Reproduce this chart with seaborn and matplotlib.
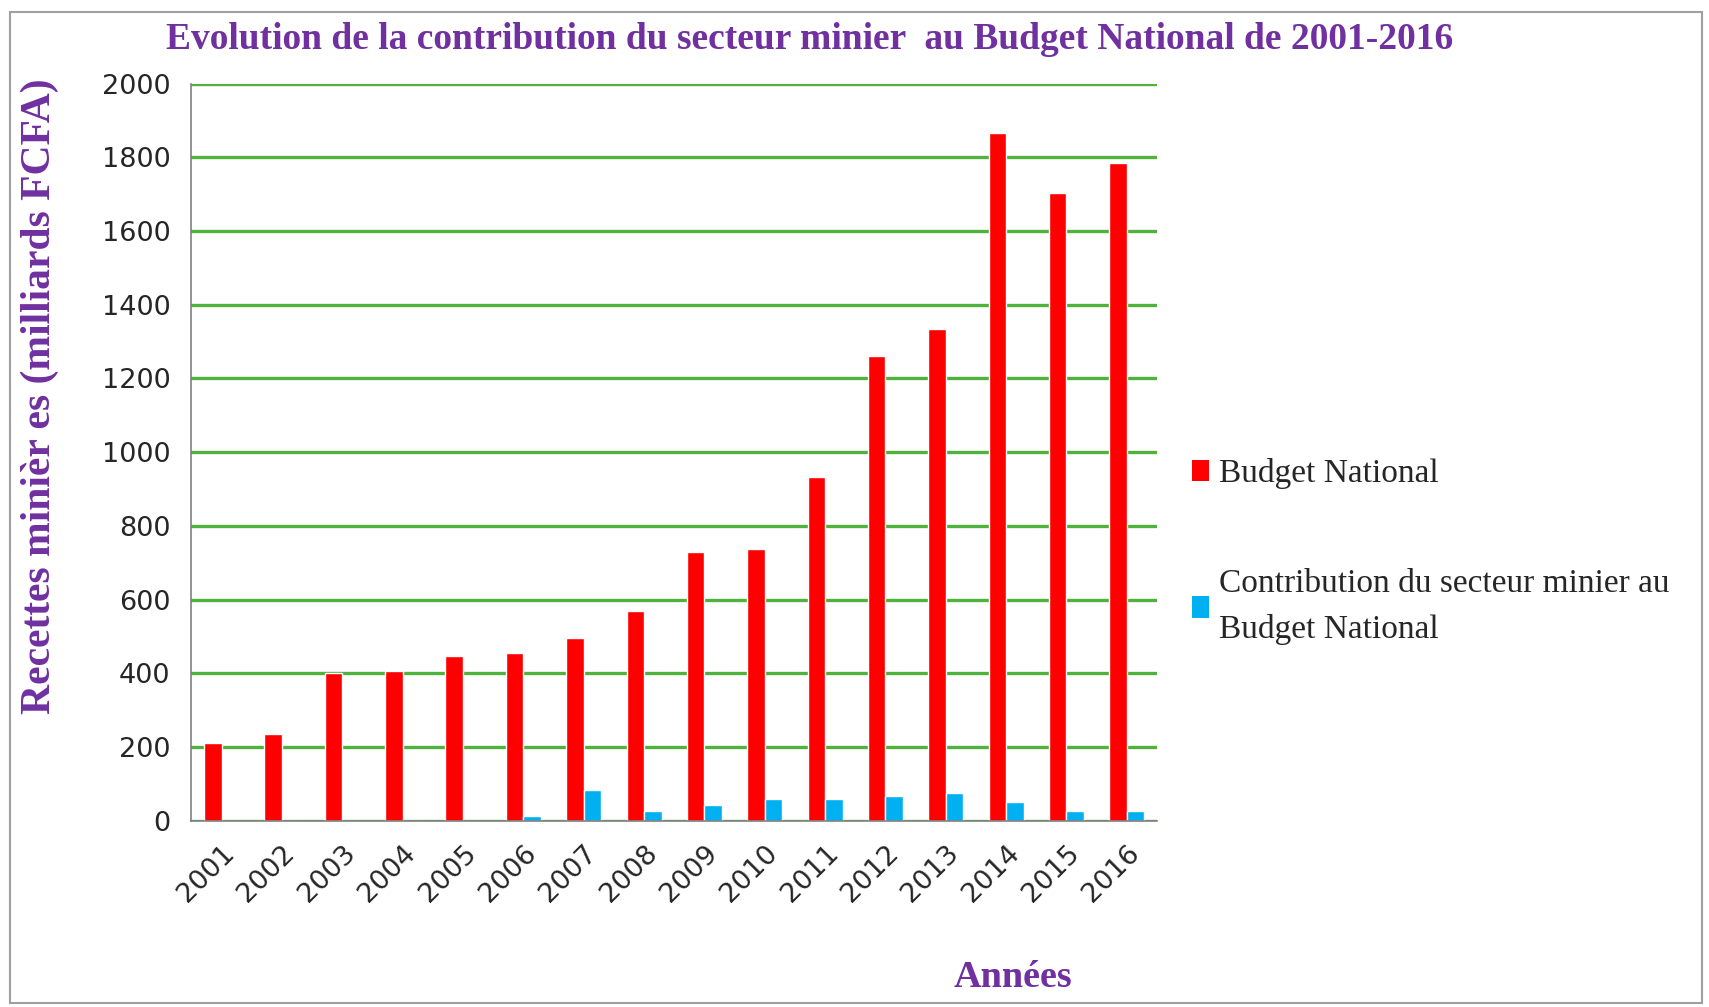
import matplotlib
matplotlib.use("Agg")
import matplotlib.pyplot as plt
import seaborn as sns
import pandas as pd
from matplotlib.patches import Patch, Rectangle

years = [str(y) for y in range(2001, 2017)]
budget = [212, 236, 400, 405, 446, 455, 495, 568, 730, 738, 932, 1262, 1333, 1866, 1704, 1784]
mining = [0, 0, 0, 0, 0, 12, 84, 27, 43, 60, 60, 68, 76, 52, 27, 27]
series = ["Budget National", "Contribution du secteur minier au\nBudget National"]
colors = ["#FF0000", "#00B0F0"]

purple = "#7030A0"
green = "#4EB23C"

df = pd.DataFrame({
    "Année": years * 2,
    "Valeur": budget + mining,
    "Série": [series[0]] * len(years) + [series[1]] * len(years),
})

sns.set_style("white")
fig = plt.figure(figsize=(17.09, 10.07), dpi=100)
ax = fig.add_axes([0.112, 0.185, 0.565, 0.732])

sns.barplot(data=df, x="Année", y="Valeur", hue="Série", palette=colors,
            width=0.58, ax=ax, legend=False, saturation=1)

ax.set_ylim(0, 2000)
ax.set_xlim(-0.5, len(years) - 0.5)
ax.set_yticks(range(0, 2001, 200))
ax.yaxis.grid(True, color=green, linewidth=2.4)
ax.set_axisbelow(True)

for s in ["top", "right"]:
    ax.spines[s].set_visible(False)
for s in ["left", "bottom"]:
    ax.spines[s].set_color("#808080")
    ax.spines[s].set_linewidth(1.2)

ax.set_xticks(range(len(years)))
ax.set_xticklabels(years, rotation=45, ha="right", rotation_mode="anchor",
                   fontsize=19.5)
ax.set_xticks([i - 0.5 for i in range(len(years) + 1)], minor=True)
ax.tick_params(axis="x", which="major", length=0, pad=14)
ax.tick_params(axis="x", which="minor", length=10, color="#808080", direction="out")
ax.tick_params(axis="y", length=7, color="#808080", direction="out", labelsize=19.5, pad=8)
ax.set_xlabel("")
ax.set_ylabel("")

fig.text(0.474, 0.961, "Evolution de la contribution du secteur minier  au Budget National de 2001-2016",
         ha="center", va="center", fontsize=27, fontweight="bold", color=purple,
         family="Liberation Serif")
fig.text(0.023, 0.607, "Recettes minièr es (milliards FCFA)", rotation=90,
         ha="center", va="center", fontsize=30, fontweight="bold", color=purple,
         family="Liberation Serif")
fig.text(0.593, 0.029, "Années", ha="center", va="center", fontsize=27.5,
         fontweight="bold", color=purple, family="Liberation Serif")

handles = [Patch(facecolor=c, edgecolor="none") for c in colors]
leg = fig.legend(handles, series, loc="upper left", bbox_to_anchor=(0.68, 0.575),
                 frameon=False, prop={"family": "Liberation Serif", "size": 24},
                 handlelength=0.5, handleheight=0.6, handletextpad=0.3,
                 labelspacing=2.4)
for t in leg.get_texts():
    t.set_linespacing(1.6)

fig.patches.append(Rectangle((0.006, 0.004), 0.99, 0.984, transform=fig.transFigure,
                             fill=False, edgecolor="#A0A0A0", linewidth=1.5))

fig.savefig("out.png", dpi=100)
